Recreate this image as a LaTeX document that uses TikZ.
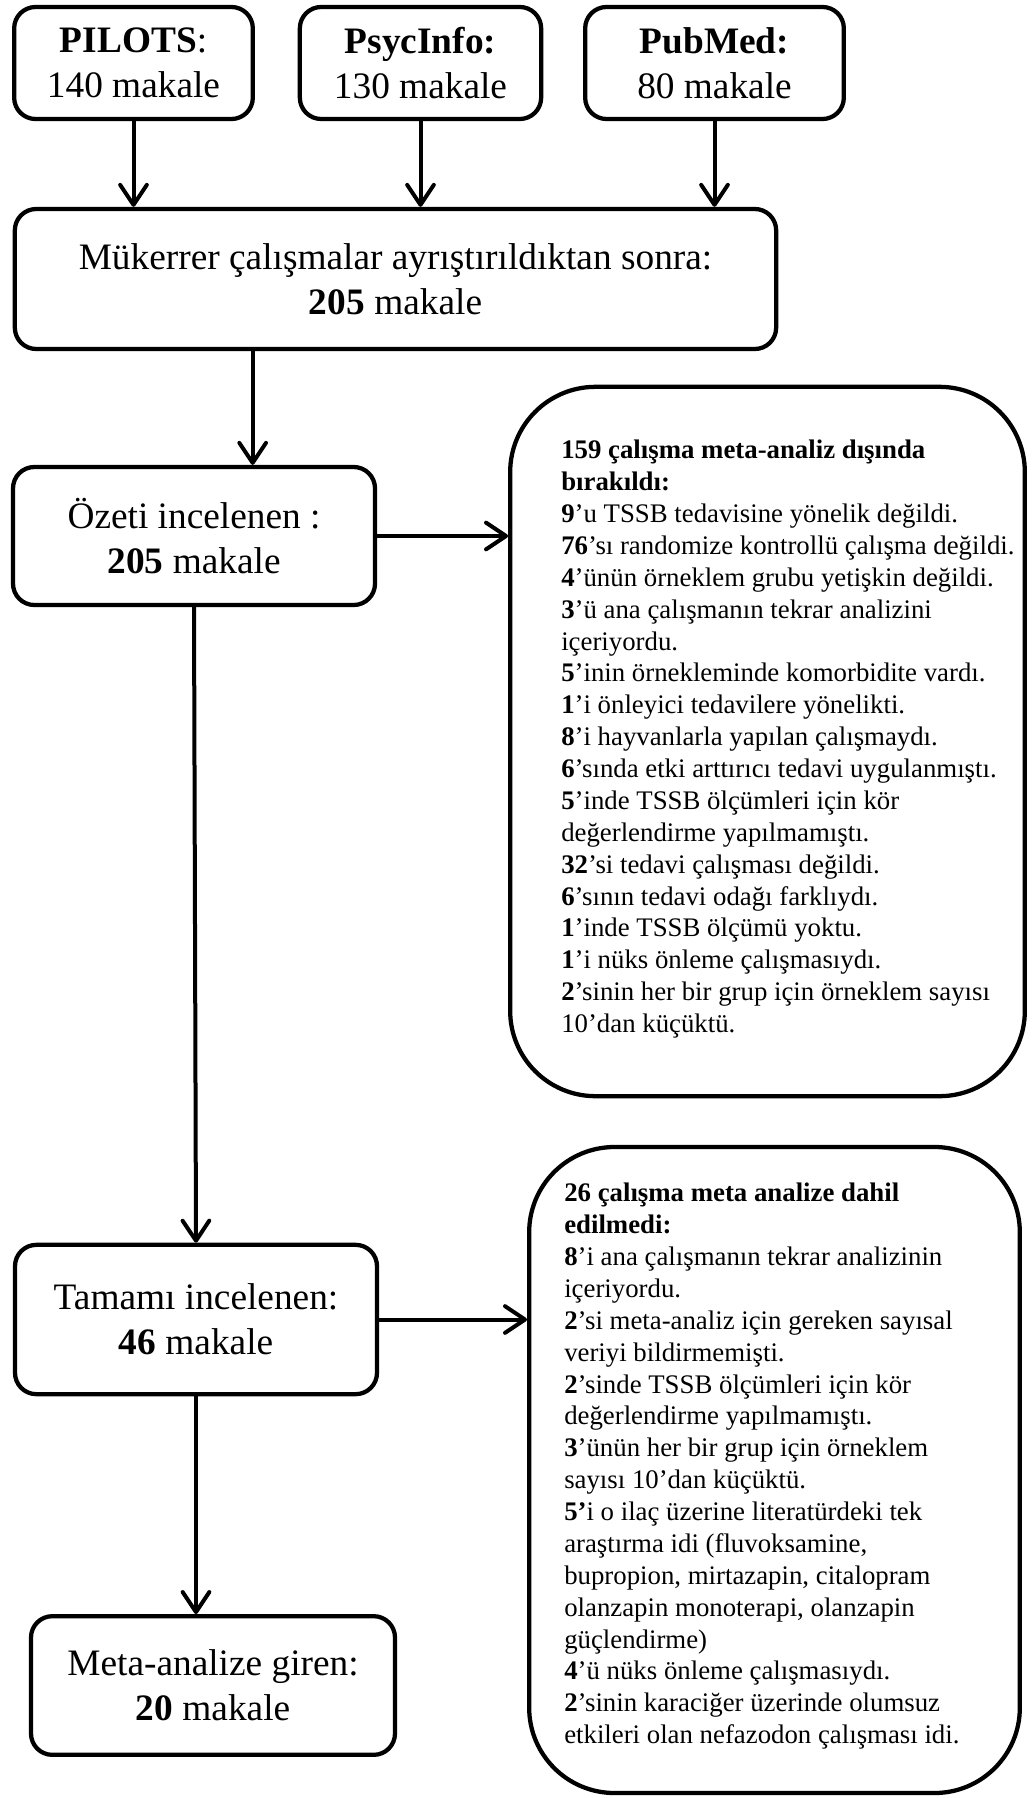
\documentclass[tikz,border=0pt]{standalone}
\usepackage{fontspec}
\setmainfont{Liberation Serif}
\usetikzlibrary{arrows.meta}

\begin{document}
\begin{tikzpicture}[x=0.75pt, y=-0.75pt]
          \tikzstyle{stage}=[draw, line width=3.2pt, rounded corners=16pt, align=center, inner sep=0pt, font=\fontsize{28pt}{33.5pt}\selectfont]
          \tikzstyle{excluded}=[draw, line width=3.2pt, rounded corners=64pt, inner sep=0pt]
          \tikzstyle{reasons}=[anchor=north west, align=left, inner sep=0pt, font=\fontsize{20.1pt}{23.9pt}\selectfont]
          \tikzstyle{flow}=[line width=3pt, -{Straight Barb[length=15pt, width=20pt, round]}]

          \useasboundingbox (0, 0) rectangle (1033, 1798);

          \node (pilots) at (133.5, 63) [stage, minimum width=179pt, minimum height=84pt] {\textbf{PILOTS}:\\140 makale};
          \node (psyc) at (420.5, 63) [stage, minimum width=181pt, minimum height=84pt] {\textbf{PsycInfo:}\\130 makale};
          \node (pubmed) at (714.5, 63) [stage, minimum width=194pt, minimum height=84pt] {\textbf{PubMed:}\\80 makale};

          \node (merged) at (395.5, 279) [stage, minimum width=571pt, minimum height=105pt] {Mükerrer çalışmalar ayrıştırıldıktan sonra:\\\textbf{205} makale};
          \node (ozet) at (194, 536) [stage, minimum width=271.5pt, minimum height=103.5pt] {Özeti incelenen :\\\textbf{205} makale};
          \node (tamami) at (196, 1319.5) [stage, minimum width=271.5pt, minimum height=112pt] {Tamamı incelenen:\\\textbf{46} makale};
          \node (meta) at (213, 1685.5) [stage, minimum width=273pt, minimum height=104pt] {Meta-analize giren:\\\textbf{20} makale};

          \node (excl1) at (767.5, 741.5) [excluded, minimum width=386pt, minimum height=532pt] {};
          \node (excl1label) at (561, 440) [reasons] {\textbf{159 çalışma meta-analiz dışında}\\
            \textbf{bırakıldı:}\\
            \textbf{9}’u TSSB tedavisine yönelik değildi.\\
            \textbf{76}’sı randomize kontrollü çalışma değildi.\\
            \textbf{4}’ünün örneklem grubu yetişkin değildi.\\
            \textbf{3}’ü ana çalışmanın tekrar analizini\\
            içeriyordu.\\
            \textbf{5}’inin örnekleminde komorbidite vardı.\\
            \textbf{1}’i önleyici tedavilere yönelikti.\\
            \textbf{8}’i hayvanlarla yapılan çalışmaydı.\\
            \textbf{6}’sında etki arttırıcı tedavi uygulanmıştı.\\
            \textbf{5}’inde TSSB ölçümleri için kör\\
            değerlendirme yapılmamıştı.\\
            \textbf{32}’si tedavi çalışması değildi.\\
            \textbf{6}’sının tedavi odağı farklıydı.\\
            \textbf{1}’inde TSSB ölçümü yoktu.\\
            \textbf{1}’i nüks önleme çalışmasıydı.\\
            \textbf{2}’sinin her bir grup için örneklem sayısı\\
            10’dan küçüktü.};

          \node (excl2) at (774.5, 1470) [excluded, minimum width=368pt, minimum height=484.5pt] {};
          \node (excl2label) at (564, 1183) [reasons] {\textbf{26 çalışma meta analize dahil}\\
            \textbf{edilmedi:}\\
            \textbf{8}’i ana çalışmanın tekrar analizinin\\
            içeriyordu.\\
            \textbf{2}’si meta-analiz için gereken sayısal\\
            veriyi bildirmemişti.\\
            \textbf{2}’sinde TSSB ölçümleri için kör\\
            değerlendirme yapılmamıştı.\\
            \textbf{3}’ünün her bir grup için örneklem\\
            sayısı 10’dan küçüktü.\\
            \textbf{5’}i o ilaç üzerine literatürdeki tek\\
            araştırma idi (fluvoksamine,\\
            bupropion, mirtazapin, citalopram\\
            olanzapin monoterapi, olanzapin\\
            güçlendirme)\\
            \textbf{4}’ü nüks önleme çalışmasıydı.\\
            \textbf{2}’sinin karaciğer üzerinde olumsuz\\
            etkileri olan nefazodon çalışması idi.};

          \draw [flow] (pilots.south) -- (pilots.south |- merged.north);
          \draw [flow] (psyc.south) -- (psyc.south |- merged.north);
          \draw [flow] (pubmed.south) -- (pubmed.south |- merged.north);
          \draw [flow] ([xshift=44pt]ozet.north |- merged.south) -- ([xshift=44pt]ozet.north);
          \draw [flow] (ozet.east) -- (ozet.east -| excl1.west);
          \draw [flow] (ozet.south) -- (tamami.north);
          \draw [flow] (tamami.east) -- (tamami.east -| excl2.west);
          \draw [flow] (tamami.south) -- (tamami.south |- meta.north);
        \end{tikzpicture}
\end{document}
